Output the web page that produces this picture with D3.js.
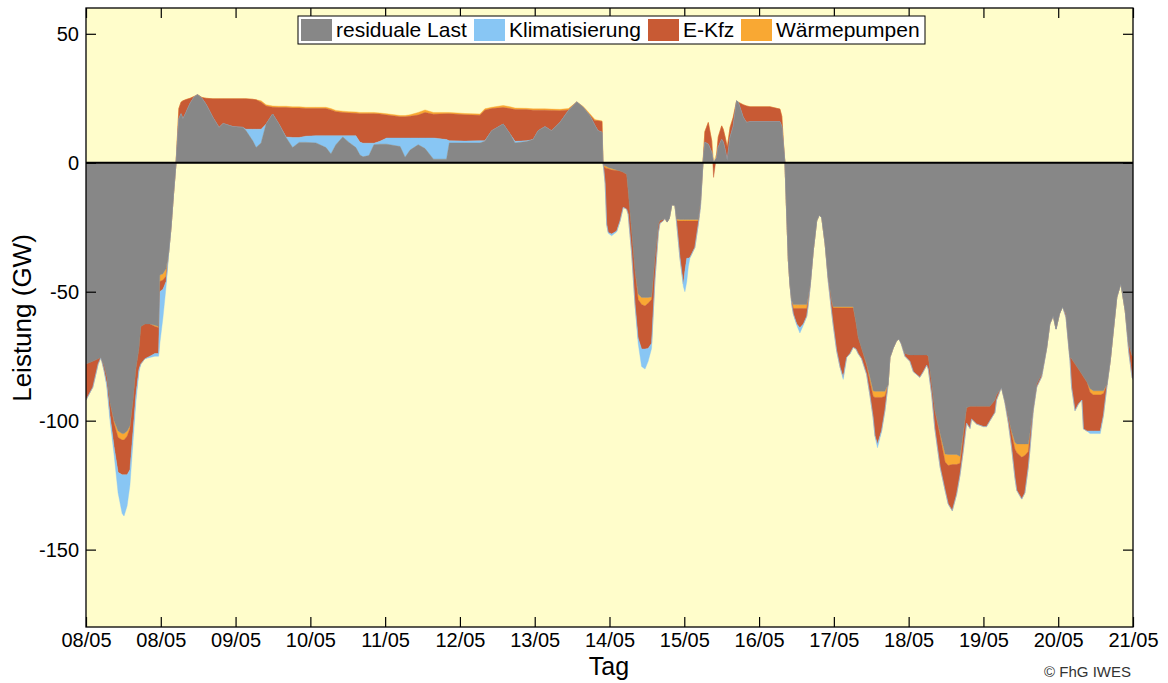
<!DOCTYPE html>
<html><head><meta charset="utf-8">
<script src="https://cdn.jsdelivr.net/npm/d3@7"></script>
<style>
body{margin:0;background:#fff}
svg{display:block}
text{font-family:"Liberation Sans",Arial,sans-serif;fill:#000}
</style>
</head><body>
<svg id="chart" width="1168" height="683"></svg>
<script>
// time in hours since first tick
const stunden = [0,2.2,3.9,4.8,5.8,6.7,7.7,9.0,10.3,11.6,12.2,13.2,14.1,15.1,16.0,17.0,17.6,18.9,20.5,22.1,23.3,23.7,24.7,25.7,26.5,27.3,28.1,28.9,
29.8,30.5,31.1,32.1,33.4,34.7,35.8,37.2,38.5,40.7,42.7,44.0,47.2,50.4,51.3,53.5,54.6,56.2,57.8,59.9,61.9,64.2,66.3,68.4,70.6,73.8,77.0,78.6,80.2,82.4,84.4,86.6,87.9,88.9,90.8,92.4,
94.3,96.5,100.8,102.4,104.0,106.6,108.8,111.5,115.7,116.6,121.6,126.4,128.0,130.2,133.9,136.1,137.7,141.4,143.5,145.1,147.3,149.4,152.1,154.8,157.5,159.6,161.7,163.3,164.3,165.6,165.9,
166.2,166.6,167.1,167.6,168.7,170.3,171.4,172.4,173.5,174.0,175.1,176.2,177.2,178.3,179.4,180.4,181.5,182.6,183.7,184.2,185.3,185.8,186.5,187.2,188.0,189.0,189.6,190.6,191.7,192.2,192.8,193.3,193.8,195.4,196.5,197.2,198.0,
198.6,199.7,200.8,201.4,202.4,202.9,204.0,204.5,205.1,205.8,206.7,207.7,208.8,209.3,210.9,212.0,213.1,219.5,222.7,223.3,223.8,224.3,
224.9,225.4,225.9,226.5,227.0,228.1,229.1,230.2,231.3,231.8,232.4,233.4,234.5,235.3,236.1,237.2,238.2,239.3,239.8,240.9,242.0,243.0,244.1,245.2,246.2,247.1,247.8,248.9,250.5,251.6,252.6,253.2,254.0,255.3,256.4,257.4,
258.0,259.0,260.1,260.9,261.7,262.8,264.4,265.5,267.6,268.7,269.8,270.3,271.4,272.4,274.1,275.7,276.7,278.0,279.4,280.5,281.5,282.6,283.7,284.2,285.8,288.0,289.0,290.1,291.7,292.2,293.8,
294.9,296.0,297.0,298.1,298.7,300.3,301.3,302.4,302.9,304.0,305.1,306.7,308.3,309.3,310.4,311.3,312.4,313.4,314.5,315.8,316.3,317.4,318.5,319.6,320.1,321.2,322.2,323.3,325.5,326.5,327.6,
328.7,329.8,330.8,332.1,333.5,334.6,335.7,336];
const residualeLast = [-78,-77,-76,-75.5,-78.7,-83,-93,-100,-104,-105,-105,-104,-102,-92,-80,-72,-63.5,-62.5,-62.5,-63,-63.5,-43.5,-43,-41,-35,-25,-12,0,
17,19,17,19.5,23,25.5,26.4,25,22.7,17.6,13.7,15.2,14,13.7,12.5,8.5,5.9,7.7,15,18.9,15,9.8,5.9,7.9,7.9,7.7,5.9,3.4,7,10,7.9,5.9,3,2.3,2.8,7,
7.2,7.2,6.3,2.1,4.9,7,5.5,1.4,1.4,7.7,7.7,7.7,8.3,12.4,15,11.1,7.7,8.2,9,12.4,14,12.4,15.6,20.2,23.6,21.4,18.2,14.5,12.4,11.8,0,
-1,-1.2,-1.5,-1.8,-2.2,-2.8,-3.2,-3.7,-4.5,-10.9,-26.4,-41.9,-50.9,-52.2,-52.2,-52.2,-52,-36.7,-23.8,-22.4,-22,-21.5,-23,-21.5,-16.3,-16.5,-21.8,-22,-22,-22,-22,-22,-22,-22,-22,-15,0,
7.9,7.2,4,0,2,6,9,8,5,0.8,9.8,14,24,23.5,17.6,15.6,15.9,15.9,15.9,14,7,0,
-21.2,-38,-47,-53.5,-55,-55,-55,-55,-55,-52,-47,-34,-22.5,-20.3,-21.2,-31.5,-44.4,-53.5,-55.8,-55.8,-55.8,-55.8,-55.8,-55.8,-55.8,-62,-67.7,-72,-78,-83.2,-88.4,-88.6,-88.6,-88.6,-88.6,-86,
-75.5,-72,-69,-68.3,-70,-74,-74.5,-74.5,-74.5,-74.5,-74.5,-75,-85.8,-96,-105,-112.9,-113.1,-113.1,-113.1,-113.8,-105,-95,-94.4,-94.4,-94.4,-94.4,-94.4,-94.4,-92,-90,-87.1,
-92.2,-98.7,-103.9,-108.4,-109,-109,-109,-109,-105,-94.8,-85.8,-81.9,-71.6,-62.5,-59.3,-64.5,-58.6,-55.8,-58.6,-75.5,-76,-78,-80,-82,-83,-85,-87.5,-88.4,-88.4,-88.4,-86,
-76.7,-63.8,-52.2,-46.8,-57.4,-70.3,-74.8,-75];
const klimatisierung = [0,0,0,0,0,-1,-2,-3,-8,-15,-16,-12,-6,-4,-3,-1,0,0,-0.5,-1,-1,-20,-11,-2,-1,0,0,0,
0,0,0,0,0,0,0,0,0,0,0,0,0,0,0.5,4.5,7.1,5.3,0,0,0,0.2,3.9,1.9,2.4,2.8,4.6,7.1,3.5,0.5,2.6,4.6,5,5.3,4.8,0.6,
1.1,2.4,3.3,7.5,4.7,2.6,4.1,8.2,7.6,0.8,0.7,0.8,0.2,0,0,0,0.6,0.3,0,0,0,0,0,0,0,0,0,0,0,0,0,
0,0,-0.2,-0.3,-0.7,-0.3,0,0,0,0,0,0,-2,-6.8,-7.8,-5,-2,0,0,0,0,0,0,0,0,0,0,-0.3,-1,-8,-9,-3.3,-0.3,0,0,0,0,
0,0,0,0,0,0,0,0,0,0,0,0,0,0,0,0,0,0,0,0,0,0,
0,0,0,0,0,-0.5,-2,-0.5,0,0,0,0,0,0,0,0,0,0,0,0,0,-0.8,0,0,0,0,0,0,0,0,0,-0.2,-1.5,-0.3,0,0,
0,0,0,0,0,0,0,0,0,0,0,0,0,0,0,0,0,0,0,0,0,0,0,0,0,0,0,0,0,0,0,
0,0,0,0,0,0,0,0,0,0,0,0,0,0,0,0,0,0,0,0,0,0,0,0,0,0,-1,-1,-1,0,0,
0,0,0,0,0,0,0,0];
const eKfz = [-14,-10,-2,0,-1.9,-3,-5,-9,-13.5,-13.5,-13.5,-15,-16,-12,-10,-8,-14.5,-13.5,-12.5,-10.5,-10,-4,-3.5,-2,0,0,0,0,
4,4.5,7,5,2,0.2,0,0.3,2.3,7.2,11.1,9.6,10.8,11.1,11.8,11.6,11.4,10.5,7,2.6,6.4,11.4,11.4,11.4,10.7,10.5,10.5,10,9.3,9,8.8,8.7,11,11.4,11.4,11.4,
10.6,8.9,8.2,8.2,8.4,8.9,9.9,9.2,10,10.5,10.2,9.9,11.9,8.6,6.4,9.9,12.3,12.1,11.4,8,6.4,7.9,4.6,0.3,0,0,0.3,1.8,3.9,4.2,0,
-1.5,-6,-21.6,-24.7,-24.8,-23.5,-19.3,-13.6,-13.5,-9.1,-8.6,-13.1,-15,-17.2,-16.7,-17.5,-17,-8.3,-3.2,-1.1,-0.5,0,0,0,0,0,-1.5,-14.1,-24.4,-19.4,-14.4,-14.4,-14.1,-10.2,-1.2,-2,0,
4.1,8.4,4.5,-5.7,1.4,4,5.3,5,5,5.2,3.9,3.6,0,0,4.9,6.4,5.8,5.8,4.9,4,1,0,
0,0,0,-1,-2.1,-6,-7.5,-6,-3,-2,-1,0,0,0,0,0,-1.6,-4,-6.7,-16.6,-23,-26.9,-19.2,-17.7,-15.3,-10.2,-6.3,-4,-3.5,-5.3,-8.2,-14.8,-18,-12.9,-5.5,0,
0,0,0,0,-0.5,-1,-2.5,-6.5,-8.7,-6.5,-4,-5,-4.2,-7,-12,-11,-14.9,-17.9,-11.5,-4.5,-6,-6,-8.6,-5,-6.9,-7.9,-7.9,-5.6,-4.8,-2,0,
-0.8,-2.3,-5,-11,-14.6,-16.2,-14.5,-6,-5.6,-1.2,-1.2,-1.1,-0.4,0,0,0,0,0,-1.4,-1.5,-11.1,-18.1,-13.5,-10,-20.2,-19,-15,-14,-14,-8.5,-1,
0,0,0,0,0,-2.7,-8.4,-9];
const waermepumpen = [0,0,0,0,0,0,0,-1,-2.5,-2.5,-2.5,-2,-1,0,0,0,0,0,0,-0.5,-0.5,-2.5,-2.5,-3,0,0,0,0,
0,0,0,0,0,0,0,0,0,0,0,0,0,0,0,0,0,0.5,0.5,0.5,0.5,0.5,0.5,0.5,0.5,0.5,0.5,0.5,0.5,0.5,0.5,0.5,0.5,0.5,0.5,0.5,
0.4,0.5,0.5,0.5,0.6,1,1,0.7,0.5,0.5,0.5,0.5,0.5,0.5,0.8,0.7,0.6,0.5,0.5,0.5,0.5,0.5,0.5,0.5,0,0.4,0.5,0.5,0.2,0.2,0,
-0.5,-0.8,-0.7,-0.5,-0.6,-0.2,0,0,0,0,0,0,-2.1,-2.8,-3.3,-2.3,-1,0,0,0,0,0,0,0,0,0,-0.7,-0.6,-0.6,-0.6,-0.6,-0.6,-0.6,-0.6,-0.6,0,0,
0,0,0,0,0,0,0,0,0,0,0,0,0,0,0,0,0,0,0,0,0,0,
0,0,0,-0.5,-1.5,-1.5,-1.5,-1.5,-1.5,-1,0,0,0,0,0,0,0,-0.5,-0.5,-0.5,-0.5,-0.5,-0.5,-0.5,-0.5,0,0,0,-0.5,-1.8,-2.1,-2.4,-2.4,-2.4,-1.9,0,
0,0,0,0,0,0,0,0,0,0,0,0,0,0,-1,-3.1,-4.3,-3.9,-3.9,-2.7,-1,0,0,0,0,0,0,0,0,0,0,
0,0,-1.1,-2.6,-3.4,-5.2,-4.5,-3,-1,0,0,0,0,0,0,0,0,0,0,0,0,0,0,0,0,0,-1.5,-1.6,-1.6,-1.1,0,
0,0,0,0,0,0,0,0];

const tickStunden = [0,24,48,72,96,120,144,168,192,216,240,264,288,312,336];
const tickLabels = ["08/05","08/05","09/05","10/05","11/05","12/05","13/05","14/05","15/05","16/05","17/05","18/05","19/05","20/05","21/05"];
const yTicks = [50,0,-50,-100,-150];
const serienNamen = ["residuale Last","Klimatisierung","E-Kfz","Wärmepumpen"];
const serienFarben = ["#878787","#88C6F4","#C85A34","#F9A833"];

const svg = d3.select("#chart");
const L = 86, R = 1133, T = 8, B = 627;
const x = d3.scaleLinear().domain([0,336]).range([L,R]);
const y = d3.scaleLinear().domain([-180,60]).range([B,T]);

svg.append("rect").attr("x",L).attr("y",T).attr("width",R-L).attr("height",B-T).attr("fill","#FFFDCB");
svg.append("clipPath").attr("id","clip").append("rect").attr("x",L).attr("y",T).attr("width",R-L).attr("height",B-T);

// diverging stack: positive side order res,kli,kfz,wp ; negative side order res,wp,kfz,kli
const series = [residualeLast, klimatisierung, eKfz, waermepumpen];
const posOrder = [0,1,2,3], negOrder = [0,3,2,1];
const bands = series.map(() => []);
for (let i = 0; i < stunden.length; i++) {
  const r = residualeLast[i];
  const isPos = k => series[k][i] > 0 || (series[k][i] === 0 && r >= 0);
  let p = 0, n = 0;
  posOrder.forEach(k => { if (isPos(k)) { const v = series[k][i]; bands[k][i] = [p, p + v]; p += v; } });
  negOrder.forEach(k => { if (!isPos(k)) { const v = series[k][i]; bands[k][i] = [n, n + v]; n += v; } });
}
const area = d3.area().x((d,i) => x(stunden[i])).y0(d => y(d[0])).y1(d => y(d[1]));
const g = svg.append("g").attr("clip-path","url(#clip)");
[3,2,1,0].forEach(k => {
  g.append("path").datum(bands[k]).attr("d", area).attr("fill", serienFarben[k])
   .attr("stroke", serienFarben[k]).attr("stroke-width", 0.4);
});
// zero line
svg.append("line").attr("x1",L).attr("x2",R).attr("y1",y(0)).attr("y2",y(0)).attr("stroke","#000").attr("stroke-width",2);

// axes
const axB = svg.append("g").attr("transform",`translate(0,${B})`)
  .call(d3.axisBottom(x).tickValues(tickStunden).tickFormat((d,i)=>tickLabels[i]).tickSize(-10).tickPadding(6));
const axT = svg.append("g").attr("transform",`translate(0,${T})`)
  .call(d3.axisTop(x).tickValues(tickStunden).tickFormat("").tickSize(-10));
const axL = svg.append("g").attr("transform",`translate(${L},0)`)
  .call(d3.axisLeft(y).tickValues(yTicks).tickFormat(d => String(d)).tickSize(-10).tickPadding(7));
const axR = svg.append("g").attr("transform",`translate(${R},0)`)
  .call(d3.axisRight(y).tickValues(yTicks).tickFormat("").tickSize(-10));
[axB,axT,axL,axR].forEach(a => {
  a.select(".domain").remove();
  a.selectAll(".tick line").attr("stroke","#000").attr("stroke-width",1.2);
  a.selectAll("text").attr("font-size",20).attr("font-family","Liberation Sans, Arial, sans-serif").attr("fill","#000");
});
svg.append("rect").attr("x",L).attr("y",T).attr("width",R-L).attr("height",B-T)
  .attr("fill","none").attr("stroke","#000").attr("stroke-width",1.3);

// titles
svg.append("text").attr("transform","translate(31,318) rotate(-90)").attr("text-anchor","middle")
  .attr("font-size",26).text("Leistung (GW)");
svg.append("text").attr("x",609).attr("y",675).attr("text-anchor","middle").attr("font-size",25).text("Tag");
svg.append("text").attr("x",1131).attr("y",677).attr("text-anchor","end").attr("font-size",15)
  .style("fill","#333").text("© FhG IWES");

// legend
const lg = svg.append("g");
lg.append("rect").attr("x",298).attr("y",16).attr("width",627).attr("height",28).attr("fill","#fff").attr("stroke","#000").attr("stroke-width",1);
const legX = [301,474,648,741];
serienNamen.forEach((nm,k) => {
  lg.append("rect").attr("x",legX[k]).attr("y",19).attr("width",31).attr("height",22).attr("fill",serienFarben[k]);
  lg.append("text").attr("x",legX[k]+35).attr("y",37).attr("font-size",21).text(nm);
});
</script>
</body></html>
